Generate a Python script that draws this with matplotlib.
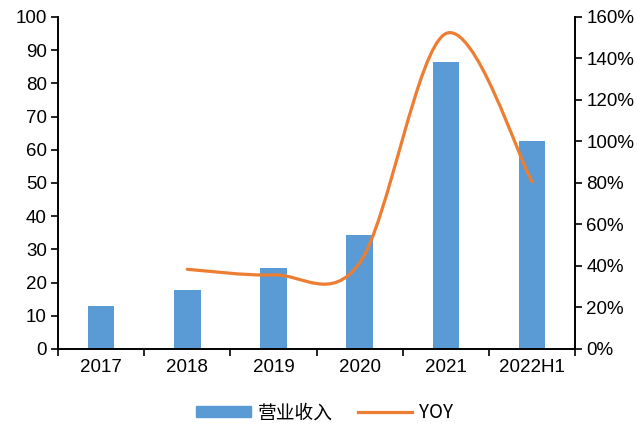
import numpy as np
import matplotlib
matplotlib.use('Agg')
import matplotlib.pyplot as plt
from matplotlib.path import Path
from matplotlib.patches import PathPatch
from matplotlib.lines import Line2D
from matplotlib.ticker import FuncFormatter

plt.rcParams['font.family'] = ['Liberation Sans', 'Noto Sans CJK SC', 'DejaVu Sans']

years = ['2017', '2018', '2019', '2020', '2021', '2022H1']
revenue = [13.0, 17.8, 24.3, 34.2, 86.3, 62.7]
yoy = [None, 38.4, 35.7, 41.5, 152.0, 80.6]

bar_color = '#5B9BD5'
line_color = '#ED7D31'
fs = 13.5

fig = plt.figure(figsize=(6.37, 4.3), dpi=100)
ax = fig.add_axes([0.091, 0.1884, 0.812, 0.7721])
ax2 = ax.twinx()

x = np.arange(len(years))
ax.bar(x, revenue, width=0.31, color=bar_color, zorder=2)

# smoothed line: cubic bezier segments through the yoy points (catmull-rom style)
px = [i for i, v in enumerate(yoy) if v is not None]
py = [v for v in yoy if v is not None]
pts = list(zip(px, py))
verts = [pts[0]]
codes = [Path.MOVETO]
n = len(pts)
for i in range(n - 1):
    p0 = pts[i - 1] if i > 0 else pts[i]
    p1 = pts[i]
    p2 = pts[i + 1]
    p3 = pts[i + 2] if i + 2 < n else pts[i + 1]
    c1 = (p1[0] + (p2[0] - p0[0]) / 6, p1[1] + (p2[1] - p0[1]) / 6)
    c2 = (p2[0] - (p3[0] - p1[0]) / 6, p2[1] - (p3[1] - p1[1]) / 6)
    verts += [c1, c2, p2]
    codes += [Path.CURVE4] * 3
ax2.add_patch(PathPatch(Path(verts, codes), fill=False, edgecolor=line_color,
                        lw=2.3, capstyle='round', zorder=3))

ax.set_xlim(-0.5, len(years) - 0.5)
ax.set_ylim(0, 100)
ax.set_yticks(np.arange(0, 101, 10))
ax2.set_ylim(0, 160)
ax2.set_yticks(np.arange(0, 161, 20))
ax2.yaxis.set_major_formatter(FuncFormatter(lambda v, p: f'{int(v)}%'))

ax.set_xticks(np.arange(-0.5, len(years), 1))
ax.set_xticklabels([])
ax.set_xticks(x, minor=True)
ax.set_xticklabels(years, minor=True)
ax.tick_params(axis='x', which='major', length=5, width=1.2, direction='out')
ax.tick_params(axis='x', which='minor', length=0, pad=7, labelsize=fs)
ax.tick_params(axis='y', length=5, width=1.2, labelsize=fs, pad=3)
ax2.tick_params(axis='y', length=5, width=1.2, labelsize=fs, pad=3)

for a in (ax, ax2):
    a.spines['top'].set_visible(False)
    for s in ('left', 'right', 'bottom'):
        a.spines[s].set_linewidth(1.2)

handles = [plt.Rectangle((0, 0), 1, 1, color=bar_color),
           Line2D([0], [0], color=line_color, lw=2.3)]
fig.legend(handles, ['营业收入', 'YOY'], loc='center', bbox_to_anchor=(0.51, 0.04),
           ncol=2, frameon=False, handlelength=2.9, handleheight=0.55,
           handletextpad=0.4, columnspacing=1.3,
           prop={'family': ['Noto Sans CJK SC', 'DejaVu Sans'], 'size': fs})

fig.savefig('out.png', dpi=100)
